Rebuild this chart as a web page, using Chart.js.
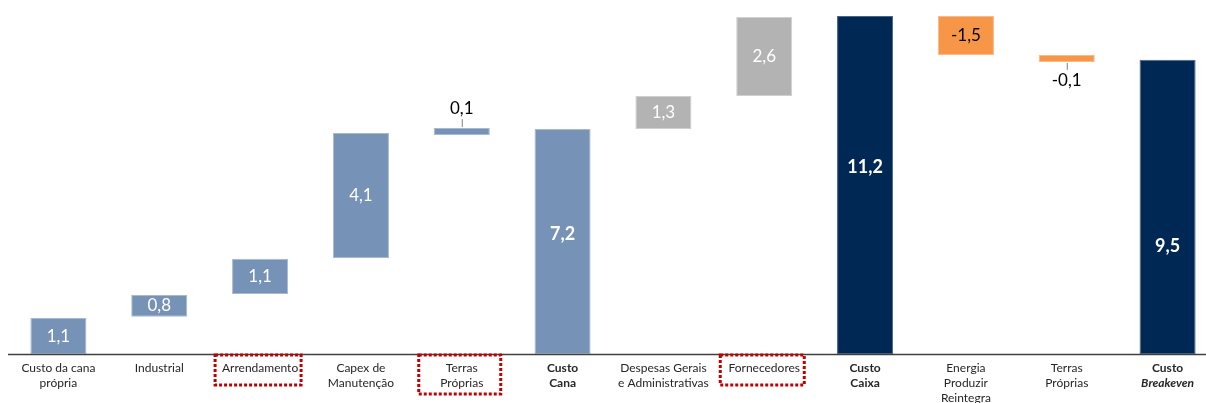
<!DOCTYPE html>
<html>
<head>
<meta charset="utf-8">
<script src="https://cdn.jsdelivr.net/npm/chart.js@4/dist/chart.umd.min.js"></script>
<style>
  html, body { margin: 0; padding: 0; background: #fff; overflow: hidden; }
  #wrap { width: 1218px; height: 403px; }
</style>
</head>
<body>
<div id="wrap"><canvas id="c" width="1218" height="403"></canvas></div>
<script>
// ---- data ----
const categories = [
  ['Custo da cana', 'própria'],
  ['Industrial'],
  ['Arrendamento'],
  ['Capex de', 'Manutenção'],
  ['Terras', 'Próprias'],
  ['Custo', 'Cana'],
  ['Despesas Gerais', 'e Administrativas'],
  ['Fornecedores'],
  ['Custo', 'Caixa'],
  ['Energia', 'Produzir', 'Reintegra'],
  ['Terras', 'Próprias'],
  ['Custo', 'Breakeven']
];
const barStart = [0, 1.23, 1.99, 3.18, 7.25, 0, 7.45, 8.54, 0, 9.90, 9.67, 0];
const barEnd   = [1.19, 1.95, 3.15, 7.32, 7.48, 7.45, 8.54, 11.16, 11.19, 11.19, 9.90, 9.74];
const valueLabels = ['1,1', '0,8', '1,1', '4,1', '0,1', '7,2', '1,3', '2,6', '11,2', '-1,5', '-0,1', '9,5'];

// ---- styles ----
const BLUE = '#7692B6', GRAY = '#B3B3B3', NAVY = '#002855', ORANGE = '#F79646';
const barColors = [BLUE, BLUE, BLUE, BLUE, BLUE, BLUE, GRAY, GRAY, NAVY, ORANGE, ORANGE, NAVY];
const barBorders = ['#A7B9D0','#A7B9D0','#A7B9D0','#A7B9D0','#A7B9D0','#A7B9D0','#D0D0D0','#D0D0D0','#4A6587','#F9B98A','#F9B98A','#4A6587'];
const labelMode = ['in','in','in','in','above','in','in','in','in','in','below','in'];
const labelShift = [0,0,0,0,0,-7,0,0,-18,0,0,39];
const labelColor = ['#fff','#fff','#fff','#fff','#000','#fff','#fff','#fff','#fff','#000','#000','#fff'];
const labelBold = [false,false,false,false,false,true,false,false,true,false,false,true];
const catBold = [false,false,false,false,false,true,false,false,true,false,false,true];
const boxed = {2: 86, 4: 82, 7: 84};
const FONT = 'Lato, "Noto Sans", sans-serif';

const overlay = {
  id: 'overlay',
  afterDatasetsDraw(chart) {
    const ctx = chart.ctx;
    const meta = chart.getDatasetMeta(0);
    const area = chart.chartArea;
    // axis line
    ctx.save();
    ctx.strokeStyle = '#404040';
    ctx.lineWidth = 1.5;
    ctx.beginPath();
    ctx.moveTo(area.left, area.bottom + 0.5);
    ctx.lineTo(area.right, area.bottom + 0.5);
    ctx.stroke();

    // value labels
    meta.data.forEach((el, i) => {
      const top = Math.min(el.y, el.base), bot = Math.max(el.y, el.base);
      ctx.fillStyle = labelColor[i];
      const big = labelBold[i];
      ctx.font = (big ? 'bold ' : '') + (big ? '18px ' : '17px ') + FONT;
      ctx.textAlign = 'center';
      ctx.textBaseline = 'middle';
      if (labelMode[i] === 'in') {
        ctx.fillText(valueLabels[i], el.x, (top + bot) / 2 + labelShift[i]);
      } else if (labelMode[i] === 'above') {
        ctx.strokeStyle = '#808080'; ctx.lineWidth = 1;
        ctx.beginPath(); ctx.moveTo(el.x + 0.5, top - 1); ctx.lineTo(el.x + 0.5, top - 9); ctx.stroke();
        ctx.fillText(valueLabels[i], el.x, top - 20);
      } else {
        ctx.strokeStyle = '#808080'; ctx.lineWidth = 1;
        ctx.beginPath(); ctx.moveTo(el.x + 0.5, bot + 1); ctx.lineTo(el.x + 0.5, bot + 8); ctx.stroke();
        ctx.fillText(valueLabels[i], el.x, bot + 19);
      }
    });

    // category labels
    const xs = chart.scales.x;
    categories.forEach((lines, i) => {
      const cx = xs.getPixelForValue(i);
      lines.forEach((ln, j) => {
        let style = catBold[i] ? 'bold ' : '';
        if (i === 11 && j === 1) style = 'italic bold ';
        ctx.font = style + '12px ' + FONT;
        ctx.fillStyle = '#262626';
        ctx.textAlign = 'center';
        ctx.textBaseline = 'middle';
        ctx.fillText(ln, cx, area.bottom + 14 + j * 15);
      });
      if (boxed[i]) {
        const w = boxed[i];
        const h = lines.length > 1 ? 39 : 30;
        ctx.strokeStyle = '#C00000';
        ctx.lineWidth = 3;
        ctx.setLineDash([3, 2]);
        ctx.strokeRect(cx - w / 2 - 2, area.bottom + 1, w, h);
        ctx.setLineDash([]);
      }
    });
    ctx.restore();
  }
};

new Chart(document.getElementById('c'), {
  type: 'bar',
  data: {
    labels: categories,
    datasets: [{
      data: barStart.map((s, i) => [s, barEnd[i]]),
      backgroundColor: barColors,
      borderColor: barBorders,
      borderWidth: 1,
      borderSkipped: false,
      barPercentage: 0.556,
      categoryPercentage: 1
    }]
  },
  options: {
    responsive: false,
    animation: false,
    layout: { padding: { left: 8, right: 0, top: 0, bottom: 49 } },
    plugins: { legend: { display: false }, tooltip: { enabled: false } },
    scales: {
      x: { display: false },
      y: { display: false, min: 0, max: 11.72 }
    }
  },
  plugins: [overlay]
});
</script>
</body>
</html>
